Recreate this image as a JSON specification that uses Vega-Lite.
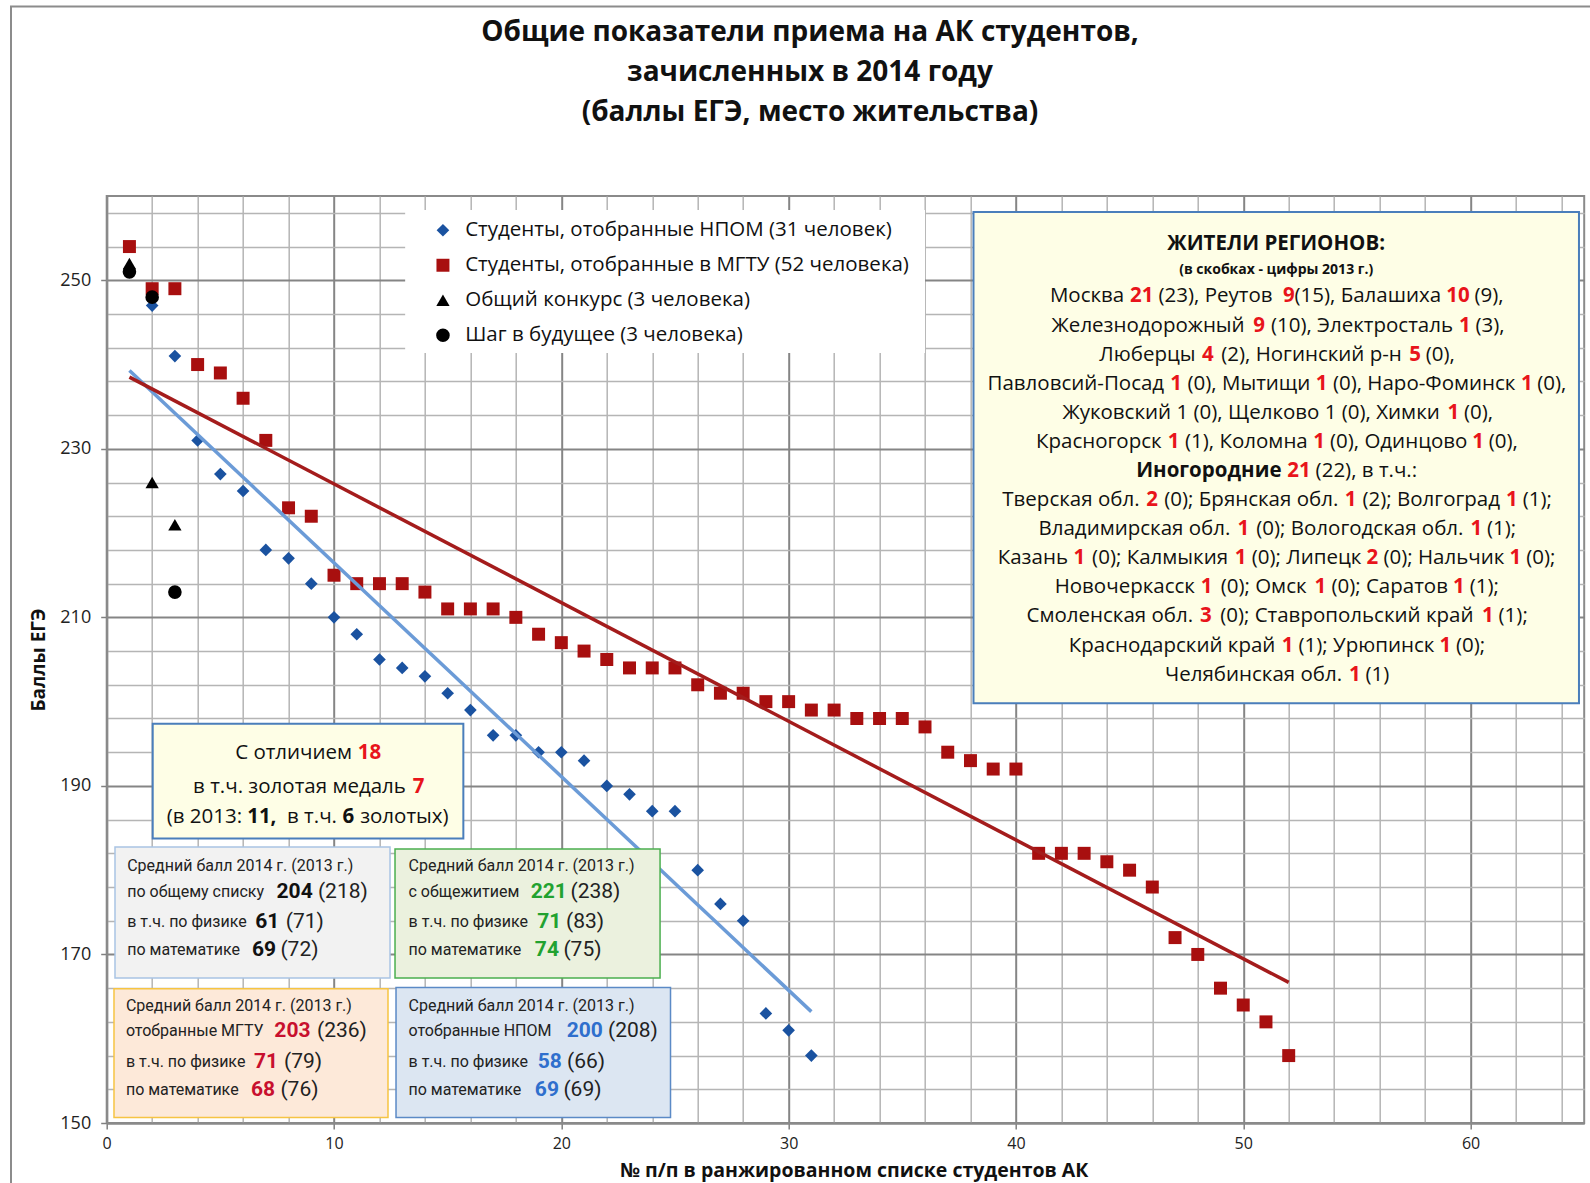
{
"$schema":"https://vega.github.io/schema/vega-lite/v6.json",
"width":1477.5,"height":927,
"autosize":{"type":"none"},
"padding":{"left":106.7,"top":196,"right":5.8,"bottom":60},
"background":"white",
"config":{"font":"Open Sans","text":{"font":"Open Sans","fontSize":20.5,"color":"#111111"},"view":{"stroke":"#8A8A8A","strokeWidth":2}},
"datasets":{"scores":[
{"rank":1,"score":251,"group":"npom"},{"rank":2,"score":247,"group":"npom"},{"rank":3,"score":241,"group":"npom"},{"rank":4,"score":231,"group":"npom"},{"rank":5,"score":227,"group":"npom"},{"rank":6,"score":225,"group":"npom"},{"rank":7,"score":218,"group":"npom"},{"rank":8,"score":217,"group":"npom"},{"rank":9,"score":214,"group":"npom"},{"rank":10,"score":210,"group":"npom"},{"rank":11,"score":208,"group":"npom"},{"rank":12,"score":205,"group":"npom"},{"rank":13,"score":204,"group":"npom"},{"rank":14,"score":203,"group":"npom"},{"rank":15,"score":201,"group":"npom"},{"rank":16,"score":199,"group":"npom"},{"rank":17,"score":196,"group":"npom"},{"rank":18,"score":196,"group":"npom"},{"rank":19,"score":194,"group":"npom"},{"rank":20,"score":194,"group":"npom"},{"rank":21,"score":193,"group":"npom"},{"rank":22,"score":190,"group":"npom"},{"rank":23,"score":189,"group":"npom"},{"rank":24,"score":187,"group":"npom"},{"rank":25,"score":187,"group":"npom"},{"rank":26,"score":180,"group":"npom"},{"rank":27,"score":176,"group":"npom"},{"rank":28,"score":174,"group":"npom"},{"rank":29,"score":163,"group":"npom"},{"rank":30,"score":161,"group":"npom"},{"rank":31,"score":158,"group":"npom"},
{"rank":1,"score":254,"group":"mgtu"},{"rank":2,"score":249,"group":"mgtu"},{"rank":3,"score":249,"group":"mgtu"},{"rank":4,"score":240,"group":"mgtu"},{"rank":5,"score":239,"group":"mgtu"},{"rank":6,"score":236,"group":"mgtu"},{"rank":7,"score":231,"group":"mgtu"},{"rank":8,"score":223,"group":"mgtu"},{"rank":9,"score":222,"group":"mgtu"},{"rank":10,"score":215,"group":"mgtu"},{"rank":11,"score":214,"group":"mgtu"},{"rank":12,"score":214,"group":"mgtu"},{"rank":13,"score":214,"group":"mgtu"},{"rank":14,"score":213,"group":"mgtu"},{"rank":15,"score":211,"group":"mgtu"},{"rank":16,"score":211,"group":"mgtu"},{"rank":17,"score":211,"group":"mgtu"},{"rank":18,"score":210,"group":"mgtu"},{"rank":19,"score":208,"group":"mgtu"},{"rank":20,"score":207,"group":"mgtu"},{"rank":21,"score":206,"group":"mgtu"},{"rank":22,"score":205,"group":"mgtu"},{"rank":23,"score":204,"group":"mgtu"},{"rank":24,"score":204,"group":"mgtu"},{"rank":25,"score":204,"group":"mgtu"},{"rank":26,"score":202,"group":"mgtu"},{"rank":27,"score":201,"group":"mgtu"},{"rank":28,"score":201,"group":"mgtu"},{"rank":29,"score":200,"group":"mgtu"},{"rank":30,"score":200,"group":"mgtu"},{"rank":31,"score":199,"group":"mgtu"},{"rank":32,"score":199,"group":"mgtu"},{"rank":33,"score":198,"group":"mgtu"},{"rank":34,"score":198,"group":"mgtu"},{"rank":35,"score":198,"group":"mgtu"},{"rank":36,"score":197,"group":"mgtu"},{"rank":37,"score":194,"group":"mgtu"},{"rank":38,"score":193,"group":"mgtu"},{"rank":39,"score":192,"group":"mgtu"},{"rank":40,"score":192,"group":"mgtu"},{"rank":41,"score":182,"group":"mgtu"},{"rank":42,"score":182,"group":"mgtu"},{"rank":43,"score":182,"group":"mgtu"},{"rank":44,"score":181,"group":"mgtu"},{"rank":45,"score":180,"group":"mgtu"},{"rank":46,"score":178,"group":"mgtu"},{"rank":47,"score":172,"group":"mgtu"},{"rank":48,"score":170,"group":"mgtu"},{"rank":49,"score":166,"group":"mgtu"},{"rank":50,"score":164,"group":"mgtu"},{"rank":51,"score":162,"group":"mgtu"},{"rank":52,"score":158,"group":"mgtu"},
{"rank":1,"score":252,"group":"ok"},{"rank":2,"score":226,"group":"ok"},{"rank":3,"score":221,"group":"ok"},
{"rank":1,"score":251,"group":"shag"},{"rank":2,"score":248,"group":"shag"},{"rank":3,"score":213,"group":"shag"}
]},
"data":{"values":[{}]},
"layer":[
{"mark":{"type":"rect","fillOpacity":0,"stroke":"#8C8C8C","strokeWidth":2},"encoding":{"x":{"datum":-4.21},"x2":{"datum":70},"y":{"datum":282.5},"y2":{"datum":140}}},
{"data":{"name":"scores"},"mark":{"type":"point","filled":true,"opacity":1,"strokeWidth":0},
 "encoding":{
  "x":{"field":"rank","type":"quantitative","scale":{"domain":[0,65],"nice":false,"zero":false},
   "axis":{"values":[0,2,4,6,8,10,12,14,16,18,20,22,24,26,28,30,32,34,36,38,40,42,44,46,48,50,52,54,56,58,60,62,64],"tickCount":200,"format":"d",
    "title":"№ п/п в ранжированном списке студентов АК","titleFont":"Open Sans","titleFontSize":19.5,"titleFontWeight":"bold","titleColor":"#111111","titleX":747,"titleY":47,"titleAlign":"center","titleBaseline":"middle",
    "labelExpr":"datum.value % 10 === 0 ? datum.label : ''","labelFont":"Open Sans","labelFontSize":16,"labelColor":"#222222","labelPadding":6,"labelFlush":false,"labelOverlap":false,
    "tickSize":6,"tickWidth":1.5,"tickColor":{"condition":{"test":"datum.value % 10 === 0","value":"#808080"},"value":"transparent"},
    "grid":true,"gridColor":{"condition":{"test":"datum.value % 10 === 0","value":"#858585"},"value":"#B5B5B5"},"gridWidth":{"condition":{"test":"datum.value % 10 === 0","value":2},"value":1.5},
    "domainColor":"#8A8A8A","domainWidth":2}},
  "y":{"field":"score","type":"quantitative","scale":{"domain":[150,260],"nice":false,"zero":false},
   "axis":{"values":[150,154,158,162,166,170,174,178,182,186,190,194,198,202,206,210,214,218,222,226,230,234,238,242,246,250,254,258],"tickCount":200,"format":"d",
    "title":"Баллы ЕГЭ","titleFont":"Open Sans","titleFontSize":19,"titleFontWeight":"bold","titleColor":"#111111","titleX":-68,"titleY":463.5,"titleAngle":270,"titleAlign":"center","titleBaseline":"middle",
    "labelExpr":"datum.value % 20 === 10 ? datum.label : ''","labelFont":"Open Sans","labelFontSize":18,"labelColor":"#222222","labelPadding":10,"labelOverlap":false,
    "tickSize":6,"tickWidth":1.5,"tickColor":{"condition":{"test":"datum.value % 20 === 10","value":"#808080"},"value":"transparent"},
    "grid":true,"gridColor":{"condition":{"test":"datum.value % 20 === 10","value":"#858585"},"value":"#B5B5B5"},"gridWidth":{"condition":{"test":"datum.value % 20 === 10","value":2},"value":1.5},
    "domainColor":"#8A8A8A","domainWidth":2}},
  "color":{"field":"group","type":"nominal","scale":{"domain":["npom","mgtu","ok","shag"],"range":["#1A52A0","#A80F0F","#000000","#000000"]},
   "legend":{"title":null,"orient":"none","legendX":326,"legendY":24,"direction":"vertical","labelFont":"Open Sans","labelFontSize":20.5,"labelColor":"#111111","labelOffset":12,"symbolSize":100,"rowPadding":14,"padding":0,"labelLimit":700,"symbolStrokeWidth":0,
    "labelExpr":"datum.label === 'npom' ? 'Студенты, отобранные НПОМ (31 человек)' : datum.label === 'mgtu' ? 'Студенты, отобранные в МГТУ (52 человека)' : datum.label === 'ok' ? 'Общий конкурс (3 человека)' : 'Шаг в будущее (3 человека)'"}},
  "shape":{"field":"group","type":"nominal","scale":{"domain":["npom","mgtu","ok","shag"],"range":["diamond","square","triangle-up","circle"]},
   "legend":{"title":null,"orient":"none","legendX":326,"legendY":24,"direction":"vertical","labelFont":"Open Sans","labelFontSize":20.5,"labelColor":"#111111","labelOffset":12,"symbolSize":100,"rowPadding":14,"padding":0,"labelLimit":700,"symbolStrokeWidth":0,
    "labelExpr":"datum.label === 'npom' ? 'Студенты, отобранные НПОМ (31 человек)' : datum.label === 'mgtu' ? 'Студенты, отобранные в МГТУ (52 человека)' : datum.label === 'ok' ? 'Общий конкурс (3 человека)' : 'Шаг в будущее (3 человека)'"}},
  "size":{"field":"group","type":"ordinal","scale":{"domain":["npom","mgtu","ok","shag"],"range":[160,185,150,125]},"legend":null}
 }},
{"data":{"name":"scores"},"transform":[{"filter":"datum.group === 'npom'"},{"regression":"score","on":"rank"}],"mark":{"type":"line","color":"#6B9BD7","strokeWidth":3.5},"encoding":{"x":{"field":"rank","type":"quantitative"},"y":{"field":"score","type":"quantitative"}}},
{"data":{"name":"scores"},"transform":[{"filter":"datum.group === 'mgtu'"},{"regression":"score","on":"rank"}],"mark":{"type":"line","color":"#A41C1C","strokeWidth":3.5},"encoding":{"x":{"field":"rank","type":"quantitative"},"y":{"field":"score","type":"quantitative"}}},
{"mark":{"type":"rect","fill":"#FFFFFF"},"encoding":{"x":{"datum":13.13},"x2":{"datum":36.0},"y":{"datum":258.34},"y2":{"datum":241.38}}},
{"mark":{"type":"rect","fill":"#FEFEE6","stroke":"#4A7EBB","strokeWidth":2},"encoding":{"x":{"datum":38.133},"x2":{"datum":64.77},"y":{"datum":258.1},"y2":{"datum":199.8}}},
{"mark":{"type":"rect","fill":"#FEFEE6","stroke":"#4A7EBB","strokeWidth":2},"encoding":{"x":{"datum":2.024},"x2":{"datum":15.69},"y":{"datum":197.37},"y2":{"datum":183.76}}},
{"mark":{"type":"rect","fill":"#F2F2F2","stroke":"#A9C4E4","strokeWidth":1.5},"encoding":{"x":{"datum":0.365},"x2":{"datum":12.464},"y":{"datum":182.74},"y2":{"datum":167.2}}},
{"mark":{"type":"rect","fill":"#EBF1DE","stroke":"#4BAF4F","strokeWidth":1.5},"encoding":{"x":{"datum":12.684},"x2":{"datum":24.344},"y":{"datum":182.5},"y2":{"datum":167.2}}},
{"mark":{"type":"rect","fill":"#FDE9D9","stroke":"#F6C443","strokeWidth":1.5},"encoding":{"x":{"datum":0.321},"x2":{"datum":12.375},"y":{"datum":165.93},"y2":{"datum":150.66}}},
{"mark":{"type":"rect","fill":"#DCE6F2","stroke":"#5B8AC6","strokeWidth":1.5},"encoding":{"x":{"datum":12.728},"x2":{"datum":24.804},"y":{"datum":166.09},"y2":{"datum":150.66}}},

{"mark":{"type":"text","fontSize":28,"fontWeight":"bold"},"encoding":{"x":{"datum":30.94},"y":{"datum":279.4},"text":{"value":"Общие показатели приема на АК студентов,"}}},
{"mark":{"type":"text","fontSize":28,"fontWeight":"bold"},"encoding":{"x":{"datum":30.94},"y":{"datum":274.6},"text":{"value":"зачисленных в 2014 году"}}},
{"mark":{"type":"text","fontSize":28,"fontWeight":"bold"},"encoding":{"x":{"datum":30.94},"y":{"datum":269.8},"text":{"value":"(баллы ЕГЭ, место жительства)"}}},

{"mark":{"type":"text","fontWeight":"bold"},"encoding":{"x":{"datum":51.45},"y":{"datum":254.31},"text":{"value":"ЖИТЕЛИ  РЕГИОНОВ:"}}},
{"mark":{"type":"text","fontWeight":"bold","fontSize":14},"encoding":{"x":{"datum":51.45},"y":{"datum":251.22},"text":{"value":"(в скобках - цифры 2013 г.)"}}},

{"mark":{"type":"text"},"encoding":{"x":{"datum":43.129},"y":{"datum":248.08},"text":{"value":"Москва"}}},
{"mark":{"type":"text","fontWeight":"bold","color":"#E8141B"},"encoding":{"x":{"datum":45.535},"y":{"datum":248.08},"text":{"value":"21"}}},
{"mark":{"type":"text"},"encoding":{"x":{"datum":48.781},"y":{"datum":248.08},"text":{"value":"(23), Реутов"}}},
{"mark":{"type":"text","fontWeight":"bold","color":"#E8141B"},"encoding":{"x":{"datum":52.004},"y":{"datum":248.08},"text":{"value":"9"}}},
{"mark":{"type":"text"},"encoding":{"x":{"datum":55.481},"y":{"datum":248.08},"text":{"value":"(15), Балашиха"}}},
{"mark":{"type":"text","fontWeight":"bold","color":"#E8141B"},"encoding":{"x":{"datum":59.451},"y":{"datum":248.08},"text":{"value":"10"}}},
{"mark":{"type":"text"},"encoding":{"x":{"datum":60.814},"y":{"datum":248.08},"text":{"value":"(9),"}}},

{"mark":{"type":"text"},"encoding":{"x":{"datum":45.816},"y":{"datum":244.63},"text":{"value":"Железнодорожный"}}},
{"mark":{"type":"text","fontWeight":"bold","color":"#E8141B"},"encoding":{"x":{"datum":50.695},"y":{"datum":244.63},"text":{"value":"9"}}},
{"mark":{"type":"text"},"encoding":{"x":{"datum":55.224},"y":{"datum":244.63},"text":{"value":"(10), Электросталь"}}},
{"mark":{"type":"text","fontWeight":"bold","color":"#E8141B"},"encoding":{"x":{"datum":59.753},"y":{"datum":244.63},"text":{"value":"1"}}},
{"mark":{"type":"text"},"encoding":{"x":{"datum":60.858},"y":{"datum":244.63},"text":{"value":"(3),"}}},

{"mark":{"type":"text"},"encoding":{"x":{"datum":45.783},"y":{"datum":241.17},"text":{"value":"Люберцы"}}},
{"mark":{"type":"text","fontWeight":"bold","color":"#E8141B"},"encoding":{"x":{"datum":48.442},"y":{"datum":241.17},"text":{"value":"4"}}},
{"mark":{"type":"text"},"encoding":{"x":{"datum":53.004},"y":{"datum":241.17},"text":{"value":"(2),  Ногинский р-н"}}},
{"mark":{"type":"text","fontWeight":"bold","color":"#E8141B"},"encoding":{"x":{"datum":57.565},"y":{"datum":241.17},"text":{"value":"5"}}},
{"mark":{"type":"text"},"encoding":{"x":{"datum":58.671},"y":{"datum":241.17},"text":{"value":"(0),"}}},

{"mark":{"type":"text"},"encoding":{"x":{"datum":42.635},"y":{"datum":237.72},"text":{"value":"Павловсий-Посад"}}},
{"mark":{"type":"text","fontWeight":"bold","color":"#E8141B"},"encoding":{"x":{"datum":47.052},"y":{"datum":237.72},"text":{"value":"1"}}},
{"mark":{"type":"text"},"encoding":{"x":{"datum":50.25},"y":{"datum":237.72},"text":{"value":"(0), Мытищи"}}},
{"mark":{"type":"text","fontWeight":"bold","color":"#E8141B"},"encoding":{"x":{"datum":53.448},"y":{"datum":237.72},"text":{"value":"1"}}},
{"mark":{"type":"text"},"encoding":{"x":{"datum":57.96},"y":{"datum":237.72},"text":{"value":"(0), Наро-Фоминск"}}},
{"mark":{"type":"text","fontWeight":"bold","color":"#E8141B"},"encoding":{"x":{"datum":62.472},"y":{"datum":237.72},"text":{"value":"1"}}},
{"mark":{"type":"text"},"encoding":{"x":{"datum":63.577},"y":{"datum":237.72},"text":{"value":"(0),"}}},

{"mark":{"type":"text"},"encoding":{"x":{"datum":50.345},"y":{"datum":234.27},"text":{"value":"Жуковский 1 (0), Щелково 1 (0), Химки"}}},
{"mark":{"type":"text","fontWeight":"bold","color":"#E8141B"},"encoding":{"x":{"datum":59.245},"y":{"datum":234.27},"text":{"value":"1"}}},
{"mark":{"type":"text"},"encoding":{"x":{"datum":60.35},"y":{"datum":234.27},"text":{"value":"(0),"}}},

{"mark":{"type":"text"},"encoding":{"x":{"datum":43.645},"y":{"datum":230.82},"text":{"value":"Красногорск"}}},
{"mark":{"type":"text","fontWeight":"bold","color":"#E8141B"},"encoding":{"x":{"datum":46.939},"y":{"datum":230.82},"text":{"value":"1"}}},
{"mark":{"type":"text"},"encoding":{"x":{"datum":50.138},"y":{"datum":230.82},"text":{"value":"(1), Коломна"}}},
{"mark":{"type":"text","fontWeight":"bold","color":"#E8141B"},"encoding":{"x":{"datum":53.338},"y":{"datum":230.82},"text":{"value":"1"}}},
{"mark":{"type":"text"},"encoding":{"x":{"datum":56.838},"y":{"datum":230.82},"text":{"value":"(0), Одинцово"}}},
{"mark":{"type":"text","fontWeight":"bold","color":"#E8141B"},"encoding":{"x":{"datum":60.338},"y":{"datum":230.82},"text":{"value":"1"}}},
{"mark":{"type":"text"},"encoding":{"x":{"datum":61.443},"y":{"datum":230.82},"text":{"value":"(0),"}}},

{"mark":{"type":"text","fontWeight":"bold"},"encoding":{"x":{"datum":48.488},"y":{"datum":227.37},"text":{"value":"Иногородние"}}},
{"mark":{"type":"text","fontWeight":"bold","color":"#E8141B"},"encoding":{"x":{"datum":52.455},"y":{"datum":227.37},"text":{"value":"21"}}},
{"mark":{"type":"text"},"encoding":{"x":{"datum":55.417},"y":{"datum":227.37},"text":{"value":"(22), в т.ч.:"}}},

{"mark":{"type":"text"},"encoding":{"x":{"datum":42.418},"y":{"datum":223.91},"text":{"value":"Тверская обл."}}},
{"mark":{"type":"text","fontWeight":"bold","color":"#E8141B"},"encoding":{"x":{"datum":45.987},"y":{"datum":223.91},"text":{"value":"2"}}},
{"mark":{"type":"text"},"encoding":{"x":{"datum":50.355},"y":{"datum":223.91},"text":{"value":"(0); Брянская обл."}}},
{"mark":{"type":"text","fontWeight":"bold","color":"#E8141B"},"encoding":{"x":{"datum":54.723},"y":{"datum":223.91},"text":{"value":"1"}}},
{"mark":{"type":"text"},"encoding":{"x":{"datum":58.272},"y":{"datum":223.91},"text":{"value":"(2); Волгоград"}}},
{"mark":{"type":"text","fontWeight":"bold","color":"#E8141B"},"encoding":{"x":{"datum":61.82},"y":{"datum":223.91},"text":{"value":"1"}}},
{"mark":{"type":"text"},"encoding":{"x":{"datum":62.935},"y":{"datum":223.91},"text":{"value":"(1);"}}},

{"mark":{"type":"text"},"encoding":{"x":{"datum":45.214},"y":{"datum":220.46},"text":{"value":"Владимирская обл."}}},
{"mark":{"type":"text","fontWeight":"bold","color":"#E8141B"},"encoding":{"x":{"datum":50.009},"y":{"datum":220.46},"text":{"value":"1"}}},
{"mark":{"type":"text"},"encoding":{"x":{"datum":55.13},"y":{"datum":220.46},"text":{"value":"(0); Вологодская обл."}}},
{"mark":{"type":"text","fontWeight":"bold","color":"#E8141B"},"encoding":{"x":{"datum":60.251},"y":{"datum":220.46},"text":{"value":"1"}}},
{"mark":{"type":"text"},"encoding":{"x":{"datum":61.366},"y":{"datum":220.46},"text":{"value":"(1);"}}},

{"mark":{"type":"text"},"encoding":{"x":{"datum":40.744},"y":{"datum":217.01},"text":{"value":"Казань"}}},
{"mark":{"type":"text","fontWeight":"bold","color":"#E8141B"},"encoding":{"x":{"datum":42.793},"y":{"datum":217.01},"text":{"value":"1"}}},
{"mark":{"type":"text"},"encoding":{"x":{"datum":46.341},"y":{"datum":217.01},"text":{"value":"(0); Калмыкия"}}},
{"mark":{"type":"text","fontWeight":"bold","color":"#E8141B"},"encoding":{"x":{"datum":49.889},"y":{"datum":217.01},"text":{"value":"1"}}},
{"mark":{"type":"text"},"encoding":{"x":{"datum":52.786},"y":{"datum":217.01},"text":{"value":"(0); Липецк"}}},
{"mark":{"type":"text","fontWeight":"bold","color":"#E8141B"},"encoding":{"x":{"datum":55.682},"y":{"datum":217.01},"text":{"value":"2"}}},
{"mark":{"type":"text"},"encoding":{"x":{"datum":58.829},"y":{"datum":217.01},"text":{"value":"(0); Нальчик"}}},
{"mark":{"type":"text","fontWeight":"bold","color":"#E8141B"},"encoding":{"x":{"datum":61.976},"y":{"datum":217.01},"text":{"value":"1"}}},
{"mark":{"type":"text"},"encoding":{"x":{"datum":63.09},"y":{"datum":217.01},"text":{"value":"(0);"}}},

{"mark":{"type":"text"},"encoding":{"x":{"datum":44.788},"y":{"datum":213.56},"text":{"value":"Новочеркасск"}}},
{"mark":{"type":"text","fontWeight":"bold","color":"#E8141B"},"encoding":{"x":{"datum":48.394},"y":{"datum":213.56},"text":{"value":"1"}}},
{"mark":{"type":"text"},"encoding":{"x":{"datum":50.895},"y":{"datum":213.56},"text":{"value":"(0);  Омск"}}},
{"mark":{"type":"text","fontWeight":"bold","color":"#E8141B"},"encoding":{"x":{"datum":53.396},"y":{"datum":213.56},"text":{"value":"1"}}},
{"mark":{"type":"text"},"encoding":{"x":{"datum":56.442},"y":{"datum":213.56},"text":{"value":"(0); Саратов"}}},
{"mark":{"type":"text","fontWeight":"bold","color":"#E8141B"},"encoding":{"x":{"datum":59.489},"y":{"datum":213.56},"text":{"value":"1"}}},
{"mark":{"type":"text"},"encoding":{"x":{"datum":60.604},"y":{"datum":213.56},"text":{"value":"(1);"}}},

{"mark":{"type":"text"},"encoding":{"x":{"datum":44.131},"y":{"datum":210.11},"text":{"value":"Смоленская обл."}}},
{"mark":{"type":"text","fontWeight":"bold","color":"#E8141B"},"encoding":{"x":{"datum":48.351},"y":{"datum":210.11},"text":{"value":"3"}}},
{"mark":{"type":"text"},"encoding":{"x":{"datum":54.556},"y":{"datum":210.11},"text":{"value":"(0);  Ставропольский край"}}},
{"mark":{"type":"text","fontWeight":"bold","color":"#E8141B"},"encoding":{"x":{"datum":60.76},"y":{"datum":210.11},"text":{"value":"1"}}},
{"mark":{"type":"text"},"encoding":{"x":{"datum":61.875},"y":{"datum":210.11},"text":{"value":"(1);"}}},

{"mark":{"type":"text"},"encoding":{"x":{"datum":46.867},"y":{"datum":206.65},"text":{"value":"Краснодарский край"}}},
{"mark":{"type":"text","fontWeight":"bold","color":"#E8141B"},"encoding":{"x":{"datum":51.951},"y":{"datum":206.65},"text":{"value":"1"}}},
{"mark":{"type":"text"},"encoding":{"x":{"datum":55.42},"y":{"datum":206.65},"text":{"value":"(1); Урюпинск"}}},
{"mark":{"type":"text","fontWeight":"bold","color":"#E8141B"},"encoding":{"x":{"datum":58.888},"y":{"datum":206.65},"text":{"value":"1"}}},
{"mark":{"type":"text"},"encoding":{"x":{"datum":60.003},"y":{"datum":206.65},"text":{"value":"(0);"}}},

{"mark":{"type":"text"},"encoding":{"x":{"datum":50.455},"y":{"datum":203.2},"text":{"value":"Челябинская обл."}}},
{"mark":{"type":"text","fontWeight":"bold","color":"#E8141B"},"encoding":{"x":{"datum":54.908},"y":{"datum":203.2},"text":{"value":"1"}}},
{"mark":{"type":"text"},"encoding":{"x":{"datum":55.903},"y":{"datum":203.2},"text":{"value":"(1)"}}},

{"mark":{"type":"text"},"encoding":{"x":{"datum":8.224},"y":{"datum":193.96},"text":{"value":"С отличием"}}},
{"mark":{"type":"text","fontWeight":"bold","color":"#E8141B"},"encoding":{"x":{"datum":11.56},"y":{"datum":193.96},"text":{"value":"18"}}},
{"mark":{"type":"text"},"encoding":{"x":{"datum":8.482},"y":{"datum":189.86},"text":{"value":"в т.ч. золотая медаль"}}},
{"mark":{"type":"text","fontWeight":"bold","color":"#E8141B"},"encoding":{"x":{"datum":13.722},"y":{"datum":189.86},"text":{"value":"7"}}},
{"mark":{"type":"text"},"encoding":{"x":{"datum":4.299},"y":{"datum":186.37},"text":{"value":"(в 2013:"}}},
{"mark":{"type":"text","fontWeight":"bold"},"encoding":{"x":{"datum":6.824},"y":{"datum":186.37},"text":{"value":"11,"}}},
{"mark":{"type":"text"},"encoding":{"x":{"datum":9.032},"y":{"datum":186.37},"text":{"value":"в т.ч."}}},
{"mark":{"type":"text","fontWeight":"bold"},"encoding":{"x":{"datum":10.628},"y":{"datum":186.37},"text":{"value":"6"}}},
{"mark":{"type":"text"},"encoding":{"x":{"datum":13.095},"y":{"datum":186.37},"text":{"value":"золотых)"}}},

{"mark":{"type":"text","font":"Roboto","fontSize":16,"align":"left","color":"#222222"},"encoding":{"x":{"datum":0.902},"y":{"datum":180.44},"text":{"value":"Средний  балл 2014 г. (2013 г.)"}}},
{"mark":{"type":"text","font":"Roboto","fontSize":16,"align":"left","color":"#222222"},"encoding":{"x":{"datum":0.902},"y":{"datum":177.47},"text":{"value":"по общему списку"}}},
{"mark":{"type":"text","font":"Roboto","fontSize":21,"fontWeight":"bold","color":"#111111"},"encoding":{"x":{"datum":8.267},"y":{"datum":177.47},"text":{"value":"204"}}},
{"mark":{"type":"text","font":"Roboto","fontSize":21,"align":"left","color":"#222222"},"encoding":{"x":{"datum":9.292},"y":{"datum":177.47},"text":{"value":"(218)"}}},
{"mark":{"type":"text","font":"Roboto","fontSize":16,"align":"left","color":"#222222"},"encoding":{"x":{"datum":0.902},"y":{"datum":173.91},"text":{"value":"в т.ч. по физике"}}},
{"mark":{"type":"text","font":"Roboto","fontSize":21,"fontWeight":"bold","color":"#111111"},"encoding":{"x":{"datum":7.061},"y":{"datum":173.91},"text":{"value":"61"}}},
{"mark":{"type":"text","font":"Roboto","fontSize":21,"align":"left","color":"#222222"},"encoding":{"x":{"datum":7.875},"y":{"datum":173.91},"text":{"value":"(71)"}}},
{"mark":{"type":"text","font":"Roboto","fontSize":16,"align":"left","color":"#222222"},"encoding":{"x":{"datum":0.902},"y":{"datum":170.47},"text":{"value":"по математике"}}},
{"mark":{"type":"text","font":"Roboto","fontSize":21,"fontWeight":"bold","color":"#111111"},"encoding":{"x":{"datum":6.92},"y":{"datum":170.47},"text":{"value":"69"}}},
{"mark":{"type":"text","font":"Roboto","fontSize":21,"align":"left","color":"#222222"},"encoding":{"x":{"datum":7.642},"y":{"datum":170.47},"text":{"value":"(72)"}}},

{"mark":{"type":"text","font":"Roboto","fontSize":16,"align":"left","color":"#222222"},"encoding":{"x":{"datum":13.278},"y":{"datum":180.44},"text":{"value":"Средний  балл 2014 г. (2013 г.)"}}},
{"mark":{"type":"text","font":"Roboto","fontSize":16,"align":"left","color":"#222222"},"encoding":{"x":{"datum":13.278},"y":{"datum":177.47},"text":{"value":"с общежитием"}}},
{"mark":{"type":"text","font":"Roboto","fontSize":21,"fontWeight":"bold","color":"#22A230"},"encoding":{"x":{"datum":19.446},"y":{"datum":177.47},"text":{"value":"221"}}},
{"mark":{"type":"text","font":"Roboto","fontSize":21,"align":"left","color":"#222222"},"encoding":{"x":{"datum":20.405},"y":{"datum":177.47},"text":{"value":"(238)"}}},
{"mark":{"type":"text","font":"Roboto","fontSize":16,"align":"left","color":"#222222"},"encoding":{"x":{"datum":13.278},"y":{"datum":173.91},"text":{"value":"в т.ч. по физике"}}},
{"mark":{"type":"text","font":"Roboto","fontSize":21,"fontWeight":"bold","color":"#22A230"},"encoding":{"x":{"datum":19.472},"y":{"datum":173.91},"text":{"value":"71"}}},
{"mark":{"type":"text","font":"Roboto","fontSize":21,"align":"left","color":"#222222"},"encoding":{"x":{"datum":20.207},"y":{"datum":173.91},"text":{"value":"(83)"}}},
{"mark":{"type":"text","font":"Roboto","fontSize":16,"align":"left","color":"#222222"},"encoding":{"x":{"datum":13.278},"y":{"datum":170.47},"text":{"value":"по математике"}}},
{"mark":{"type":"text","font":"Roboto","fontSize":21,"fontWeight":"bold","color":"#22A230"},"encoding":{"x":{"datum":19.366},"y":{"datum":170.47},"text":{"value":"74"}}},
{"mark":{"type":"text","font":"Roboto","fontSize":21,"align":"left","color":"#222222"},"encoding":{"x":{"datum":20.092},"y":{"datum":170.47},"text":{"value":"(75)"}}},

{"mark":{"type":"text","font":"Roboto","fontSize":16,"align":"left","color":"#222222"},"encoding":{"x":{"datum":0.845},"y":{"datum":163.83},"text":{"value":"Средний  балл 2014 г. (2013 г.)"}}},
{"mark":{"type":"text","font":"Roboto","fontSize":16,"align":"left","color":"#222222"},"encoding":{"x":{"datum":0.845},"y":{"datum":160.87},"text":{"value":"отобранные МГТУ"}}},
{"mark":{"type":"text","font":"Roboto","fontSize":21,"fontWeight":"bold","color":"#C8102E"},"encoding":{"x":{"datum":8.17},"y":{"datum":160.87},"text":{"value":"203"}}},
{"mark":{"type":"text","font":"Roboto","fontSize":21,"align":"left","color":"#222222"},"encoding":{"x":{"datum":9.252},"y":{"datum":160.87},"text":{"value":"(236)"}}},
{"mark":{"type":"text","font":"Roboto","fontSize":16,"align":"left","color":"#222222"},"encoding":{"x":{"datum":0.845},"y":{"datum":157.24},"text":{"value":"в т.ч. по физике"}}},
{"mark":{"type":"text","font":"Roboto","fontSize":21,"fontWeight":"bold","color":"#C8102E"},"encoding":{"x":{"datum":7.013},"y":{"datum":157.24},"text":{"value":"71"}}},
{"mark":{"type":"text","font":"Roboto","fontSize":21,"align":"left","color":"#222222"},"encoding":{"x":{"datum":7.8},"y":{"datum":157.24},"text":{"value":"(79)"}}},
{"mark":{"type":"text","font":"Roboto","fontSize":16,"align":"left","color":"#222222"},"encoding":{"x":{"datum":0.845},"y":{"datum":153.87},"text":{"value":"по математике"}}},
{"mark":{"type":"text","font":"Roboto","fontSize":21,"fontWeight":"bold","color":"#C8102E"},"encoding":{"x":{"datum":6.876},"y":{"datum":153.87},"text":{"value":"68"}}},
{"mark":{"type":"text","font":"Roboto","fontSize":21,"align":"left","color":"#222222"},"encoding":{"x":{"datum":7.642},"y":{"datum":153.87},"text":{"value":"(76)"}}},

{"mark":{"type":"text","font":"Roboto","fontSize":16,"align":"left","color":"#222222"},"encoding":{"x":{"datum":13.278},"y":{"datum":163.83},"text":{"value":"Средний  балл 2014 г. (2013 г.)"}}},
{"mark":{"type":"text","font":"Roboto","fontSize":16,"align":"left","color":"#222222"},"encoding":{"x":{"datum":13.278},"y":{"datum":160.87},"text":{"value":"отобранные НПОМ"}}},
{"mark":{"type":"text","font":"Roboto","fontSize":21,"fontWeight":"bold","color":"#2F6FCD"},"encoding":{"x":{"datum":21.034},"y":{"datum":160.87},"text":{"value":"200"}}},
{"mark":{"type":"text","font":"Roboto","fontSize":21,"align":"left","color":"#222222"},"encoding":{"x":{"datum":22.054},"y":{"datum":160.87},"text":{"value":"(208)"}}},
{"mark":{"type":"text","font":"Roboto","fontSize":16,"align":"left","color":"#222222"},"encoding":{"x":{"datum":13.278},"y":{"datum":157.24},"text":{"value":"в т.ч. по физике"}}},
{"mark":{"type":"text","font":"Roboto","fontSize":21,"fontWeight":"bold","color":"#2F6FCD"},"encoding":{"x":{"datum":19.494},"y":{"datum":157.24},"text":{"value":"58"}}},
{"mark":{"type":"text","font":"Roboto","fontSize":21,"align":"left","color":"#222222"},"encoding":{"x":{"datum":20.251},"y":{"datum":157.24},"text":{"value":"(66)"}}},
{"mark":{"type":"text","font":"Roboto","fontSize":16,"align":"left","color":"#222222"},"encoding":{"x":{"datum":13.278},"y":{"datum":153.87},"text":{"value":"по математике"}}},
{"mark":{"type":"text","font":"Roboto","fontSize":21,"fontWeight":"bold","color":"#2F6FCD"},"encoding":{"x":{"datum":19.366},"y":{"datum":153.87},"text":{"value":"69"}}},
{"mark":{"type":"text","font":"Roboto","fontSize":21,"align":"left","color":"#222222"},"encoding":{"x":{"datum":20.092},"y":{"datum":153.87},"text":{"value":"(69)"}}}
]
}
